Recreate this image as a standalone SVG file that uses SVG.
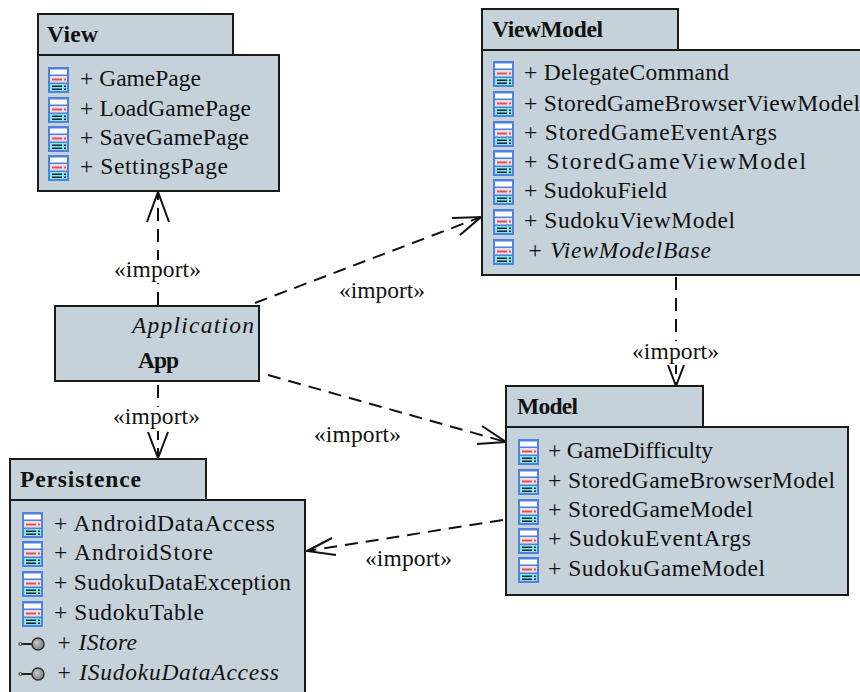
<svg xmlns="http://www.w3.org/2000/svg" width="860" height="692" viewBox="0 0 860 692">
<style>
.b{fill:#c6d2da;stroke:#1a1a1a;stroke-width:2}
text{font-family:"Liberation Serif","Times New Roman",serif;font-size:23.5px;fill:#111}
.h{font-weight:bold}
.i{font-style:italic}
.c{fill:none;stroke:#111;stroke-width:2;stroke-dasharray:13 8}
.a{fill:none;stroke:#111;stroke-width:2}
.w{fill:#fff}
</style>
<defs>
<radialGradient id="g" cx=".4" cy=".4" r=".7"><stop offset="0" stop-color="#c8c8c8"/><stop offset="1" stop-color="#777"/></radialGradient>
<g id="cls">
<rect x="0" y="0" width="21" height="26" fill="#4f80dc"/>
<rect x="2" y="2.500" width="17" height="5" fill="#fff"/>
<rect x="2" y="9" width="17" height="6.500" fill="#e8dfe6"/>
<rect x="4" y="11.500" width="10" height="2" fill="#e85050"/>
<rect x="16" y="11.500" width="2" height="2" fill="#e85050"/>
<rect x="2" y="17" width="17" height="7" fill="#7fe8ea"/>
<rect x="4" y="18.500" width="10" height="1.500" fill="#223"/>
<rect x="4" y="21.500" width="10" height="1.500" fill="#223"/>
<rect x="16" y="18.500" width="2" height="1.500" fill="#223"/>
<rect x="16" y="21.500" width="2" height="1.500" fill="#223"/>
</g>
<g id="itf">
<circle cx="1.500" cy="0" r="1.500" fill="#fff" stroke="#222"/>
<path d="M3 0H14" stroke="#222" stroke-width="2"/>
<circle cx="19" cy="0" r="6" fill="url(#g)" stroke="#333" stroke-width="1.500"/>
</g>
</defs>
<g id="connectors">
<path class="c" d="M158 305V192"/>
<path class="a" d="M147 222L158 192L169 222"/>
<path class="c" d="M158 385V459"/>
<path class="a" d="M148 432L158 458L168 432"/>
<path class="c" d="M255 303L481 217"/>
<path class="a" d="M452 218L481 217L460 235"/>
<path class="c" d="M268 375L506 442"/>
<path class="a" d="M482 426L506 442L477 444"/>
<path class="c" d="M676 277V386"/>
<path class="a" d="M668 365L676 386L684 365"/>
<path class="c" d="M503 520L307 551"/>
<path class="a" d="M332 538L307 551L336 555"/>
<rect class="w" x="113" y="260" width="90" height="23"/>
<rect class="w" x="112" y="407" width="90" height="24"/>
<rect class="w" x="631" y="341" width="90" height="24"/>
<text x="114" y="277" textLength="87">«import»</text>
<text x="339" y="298" textLength="86">«import»</text>
<text x="113" y="424" textLength="87">«import»</text>
<text x="314" y="442" textLength="87">«import»</text>
<text x="632" y="359" textLength="87">«import»</text>
<text x="365" y="566" textLength="87">«import»</text>
</g>
<g id="view">
<rect class="b" x="38" y="14" width="195" height="41"/>
<rect class="b" x="38" y="55" width="241" height="136"/>
<text class="h" x="47" y="42" textLength="51">View</text>
<use href="#cls" x="48" y="67"/><text x="80" y="86" textLength="121">+ GamePage</text>
<use href="#cls" x="48" y="97"/><text x="80" y="116" textLength="171">+ LoadGamePage</text>
<use href="#cls" x="48" y="126"/><text x="80" y="145" textLength="169">+ SaveGamePage</text>
<use href="#cls" x="48" y="155"/><text x="80" y="174" textLength="148">+ SettingsPage</text>
</g>
<g id="viewmodel">
<rect class="b" x="482" y="9" width="196" height="41"/>
<rect class="b" x="482" y="50" width="379" height="225"/>
<text class="h" x="492" y="37" textLength="111">ViewModel</text>
<use href="#cls" x="493" y="61"/><text x="524" y="80" textLength="205">+ DelegateCommand</text>
<use href="#cls" x="493" y="91"/><text x="524" y="111" textLength="336">+ StoredGameBrowserViewModel</text>
<use href="#cls" x="493" y="121"/><text x="524" y="140" textLength="253">+ StoredGameEventArgs</text>
<use href="#cls" x="493" y="150"/><text x="524" y="169" textLength="282">+ StoredGameViewModel</text>
<use href="#cls" x="493" y="179"/><text x="524" y="198" textLength="143">+ SudokuField</text>
<use href="#cls" x="493" y="209"/><text x="524" y="228" textLength="211">+ SudokuViewModel</text>
<use href="#cls" x="493" y="239"/><text class="i" x="527" y="258" textLength="184">+ ViewModelBase</text>
</g>
<g id="app">
<rect class="b" x="55" y="306" width="204" height="75"/>
<text class="i" x="132" y="333" textLength="122">Application</text>
<text class="h" x="138" y="368" textLength="41">App</text>
</g>
<g id="model">
<rect class="b" x="506" y="386" width="197" height="41"/>
<rect class="b" x="506" y="427" width="342" height="168"/>
<text class="h" x="517" y="414" textLength="61">Model</text>
<use href="#cls" x="518" y="439"/><text x="548" y="458" textLength="165">+ GameDifficulty</text>
<use href="#cls" x="518" y="469"/><text x="548" y="488" textLength="287">+ StoredGameBrowserModel</text>
<use href="#cls" x="518" y="499"/><text x="548" y="517" textLength="205">+ StoredGameModel</text>
<use href="#cls" x="518" y="528"/><text x="548" y="546" textLength="203">+ SudokuEventArgs</text>
<use href="#cls" x="518" y="557"/><text x="548" y="576" textLength="217">+ SudokuGameModel</text>
</g>
<g id="persistence">
<rect class="b" x="10" y="459" width="196" height="41"/>
<rect class="b" x="10" y="500" width="295" height="193"/>
<text class="h" x="20" y="487" textLength="121">Persistence</text>
<use href="#cls" x="22" y="512"/><text x="54" y="531" textLength="221">+ AndroidDataAccess</text>
<use href="#cls" x="22" y="541"/><text x="54" y="560" textLength="159">+ AndroidStore</text>
<use href="#cls" x="22" y="571"/><text x="54" y="590" textLength="237">+ SudokuDataException</text>
<use href="#cls" x="22" y="601"/><text x="54" y="620" textLength="150">+ SudokuTable</text>
<use href="#itf" x="19" y="644"/><text class="i" x="56" y="650" textLength="81">+ IStore</text>
<use href="#itf" x="19" y="674"/><text class="i" x="56" y="680" textLength="223">+ ISudokuDataAccess</text>
</g>
</svg>
